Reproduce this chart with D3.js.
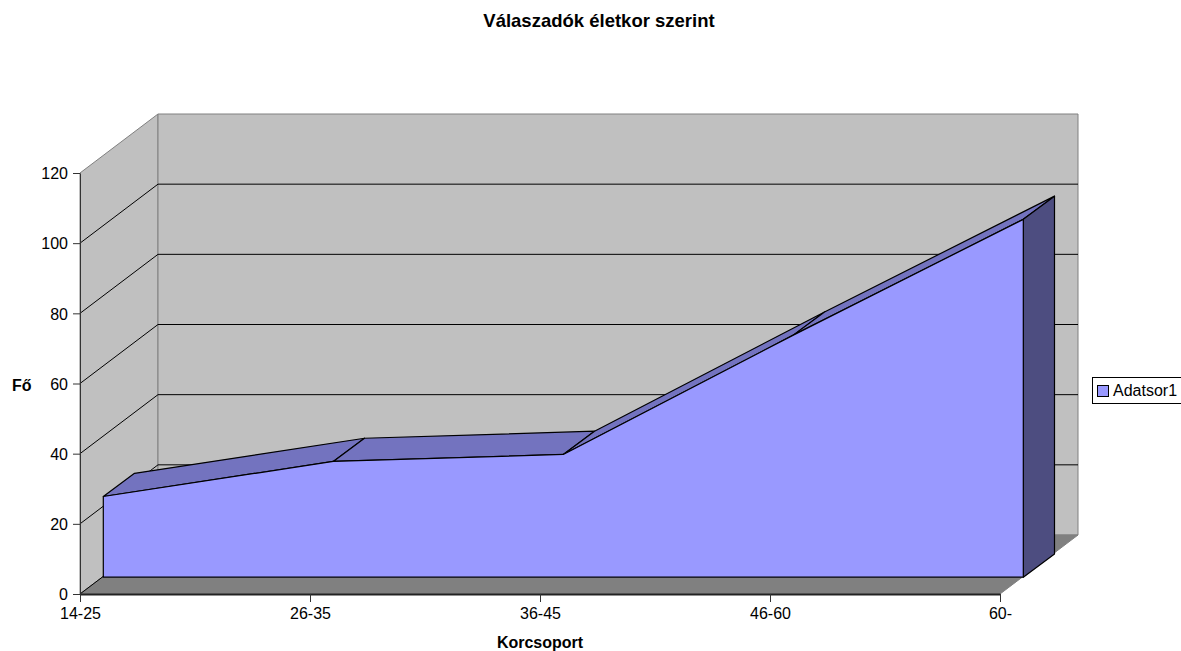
<!DOCTYPE html>
<html><head><meta charset="utf-8">
<script src="https://cdn.jsdelivr.net/npm/d3@7"></script>
<style>body{margin:0;background:#fff} svg{display:block} text{font-family:"Liberation Sans",Arial,sans-serif;fill:#000}</style>
</head><body><svg id="c" width="1181" height="651"></svg>
<script>
const categories = ["14-25", "26-35", "36-45", "46-60", "60-"];
const values = [23, 33, 35, 69, 102];
const yTicks = [0, 20, 40, 60, 80, 100, 120];
const seriesName = "Adatsor1";
const titleText = "Válaszadók életkor szerint";
const xTitleText = "Korcsoport";
const yTitleText = "Fő";

const svg = d3.select("#c");
const x = d3.scalePoint().domain(categories).range([80, 1000]);
const y = d3.scaleLinear().domain([0, 120]).range([594, 173]);

const wall = {dx: 78, dy: -59};
const sFront = {dx: 23.3, dy: -16.8};
const sBack = {dx: 54.5, dy: -40};
const P = (px, py, o) => [px + o.dx, py + o.dy];
const line = d3.line();
const poly = pts => line(pts) + "Z";

const x0 = x(categories[0]), x1 = x(categories[categories.length - 1]);
const y0 = y(0), yT = y(yTicks[yTicks.length - 1]);

// side wall
svg.append("path").attr("d", poly([[x0, y0], [x0, yT], P(x0, yT, wall), P(x0, y0, wall)]))
  .attr("fill", "#c0c0c0").attr("stroke", "#808080");
// back wall
svg.append("path").attr("d", poly([P(x0, y0, wall), P(x0, yT, wall), P(x1, yT, wall), P(x1, y0, wall)]))
  .attr("fill", "#c0c0c0").attr("stroke", "#808080");
// floor
svg.append("path").attr("d", poly([[x0, y0], [x1, y0], P(x1, y0, wall), P(x0, y0, wall)]))
  .attr("fill", "#808080").attr("stroke", "#808080");
// gridlines
yTicks.filter(t => t < 120).forEach(t => {
  const a = [x0, y(t)], b = P(x0, y(t), wall), c = P(x1, y(t), wall);
  svg.append("path").attr("d", t === 0 ? line([a, b]) : line([a, b, c]))
    .attr("fill", "none").attr("stroke", "#000").attr("stroke-width", 1);
});

// series
const front = categories.map((c, i) => P(x(c), y(values[i]), sFront));
const back = categories.map((c, i) => P(x(c), y(values[i]), sBack));
const n = categories.length;
const g = svg.append("g").attr("stroke", "#000").attr("stroke-width", 1.2).attr("stroke-linejoin", "round");
for (let i = 0; i < n - 1; i++) {
  g.append("path").attr("d", poly([front[i], front[i + 1], back[i + 1], back[i]])).attr("fill", "#7373bf");
}
g.append("path").attr("d", poly([front[n - 1], P(x1, y0, sFront), P(x1, y0, sBack), back[n - 1]])).attr("fill", "#4d4d80");
g.append("path").attr("d", poly([P(x0, y0, sFront), ...front, P(x1, y0, sFront)])).attr("fill", "#9999ff");

// axes
const yAxis = svg.append("g").attr("transform", `translate(${x0},0)`)
  .call(d3.axisLeft(y).tickValues(yTicks).tickSize(7).tickSizeOuter(0).tickPadding(5));
yAxis.select(".domain").attr("stroke", "#333");
yAxis.selectAll(".tick line").attr("stroke", "#333");
yAxis.selectAll("text").attr("font-size", 16).attr("dy", "0.36em").attr("font-family", "Liberation Sans, Arial, sans-serif");

const xAxis = svg.append("g").attr("transform", `translate(0,${y0})`)
  .call(d3.axisBottom(x).tickSize(8).tickSizeOuter(0).tickPadding(6));
xAxis.select(".domain").attr("stroke", "#222").attr("stroke-width", 2);
xAxis.selectAll(".tick line").attr("stroke", "#333");
xAxis.selectAll("text").attr("font-size", 16).attr("font-family", "Liberation Sans, Arial, sans-serif");

// titles
svg.append("text").attr("x", 599).attr("y", 27).attr("text-anchor", "middle")
  .attr("font-size", 18.5).attr("font-weight", "bold").text(titleText);
svg.append("text").attr("x", 540).attr("y", 648).attr("text-anchor", "middle")
  .attr("font-size", 16).attr("font-weight", "bold").text(xTitleText);
svg.append("text").attr("x", 12).attr("y", 391)
  .attr("font-size", 16).attr("font-weight", "bold").text(yTitleText);

// legend
const lg = svg.append("g").attr("transform", "translate(1092,377)");
lg.append("rect").attr("x", 0.5).attr("y", 0.5).attr("width", 92).attr("height", 26)
  .attr("fill", "#fff").attr("stroke", "#000");
lg.append("rect").attr("x", 5.5).attr("y", 8.5).attr("width", 11).attr("height", 11)
  .attr("fill", "#9999ff").attr("stroke", "#000");
lg.append("text").attr("x", 21).attr("y", 19).attr("font-size", 16).text(seriesName);
</script></body></html>
